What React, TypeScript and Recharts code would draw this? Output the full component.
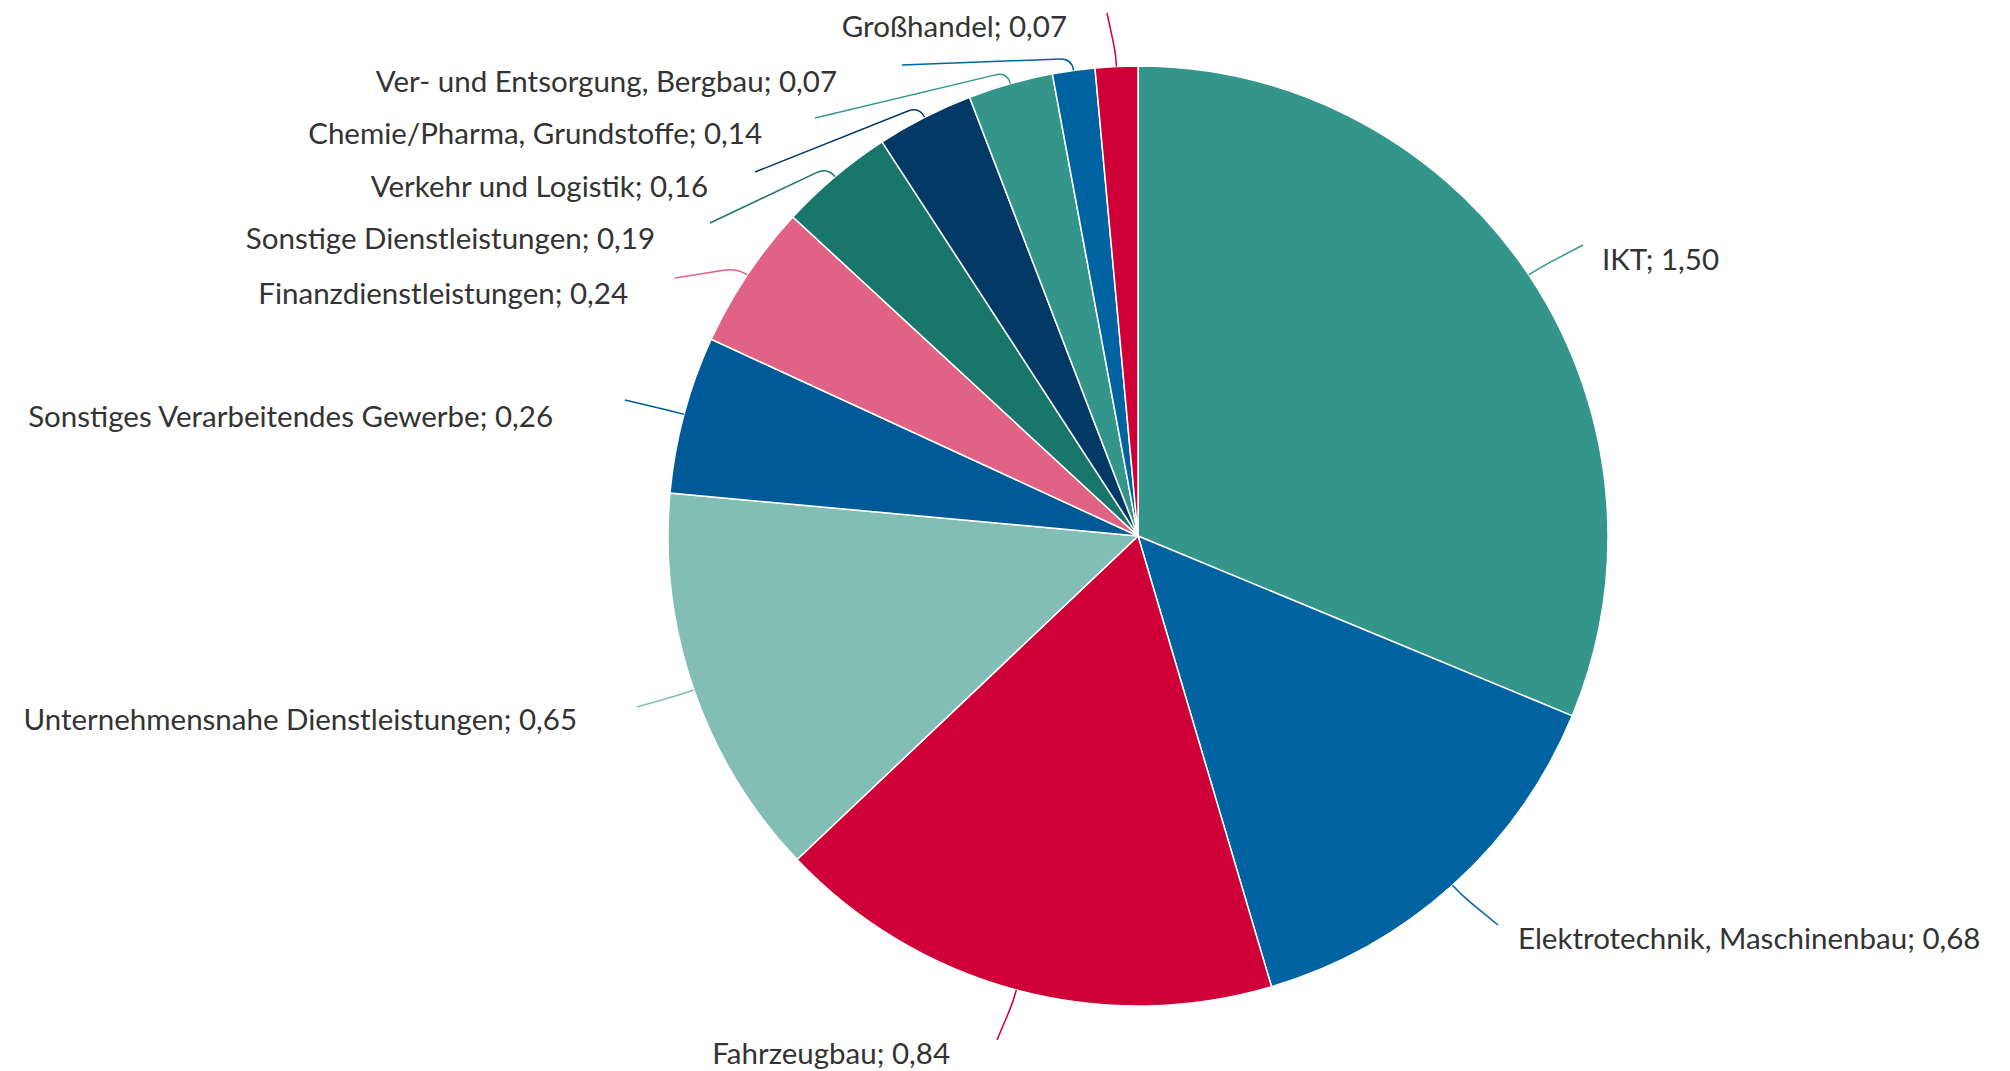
import React from 'react';
import { PieChart, Pie, Cell } from 'recharts';

const categories = [
  'IKT',
  'Elektrotechnik, Maschinenbau',
  'Fahrzeugbau',
  'Unternehmensnahe Dienstleistungen',
  'Sonstiges Verarbeitendes Gewerbe',
  'Finanzdienstleistungen',
  'Sonstige Dienstleistungen',
  'Verkehr und Logistik',
  'Chemie/Pharma, Grundstoffe',
  'Ver- und Entsorgung, Bergbau',
  'Großhandel',
];

const values = [1.5, 0.68, 0.84, 0.65, 0.26, 0.24, 0.19, 0.16, 0.14, 0.07, 0.07];

const colors = [
  '#34968A',
  '#0063A1',
  '#CF0037',
  '#82BEB6',
  '#005A97',
  '#E06386',
  '#19766A',
  '#023A65',
  '#34968A',
  '#0063A1',
  '#CF0037',
];

// label layout, relative to the pie centre
const connectorEnds = [
  [445, -291],
  [360, 389],
  [-141, 504],
  [-501, 171],
  [-513, -136],
  [-463, -258],
  [-428, -313],
  [-383, -364],
  [-323, -418],
  [-236, -471],
  [-31, -523],
];

const textAnchors = [
  [464, -278],
  [380, 401],
  [-188, 516],
  [-561, 182],
  [-585, -121],
  [-510, -244],
  [-483, -299],
  [-430, -351],
  [-376, -404],
  [-301, -456],
  [-71, -511],
];

const data = categories.map((name, i) => ({ name, value: values[i] }));

const fmt = (v: number) => v.toFixed(2).replace('.', ',');
const RAD = Math.PI / 180;

const renderLabel = (props: any) => {
  const { cx, cy, midAngle, outerRadius, index, value } = props;
  const [ex0, ey0] = connectorEnds[index];
  const [tx0, ty0] = textAnchors[index];
  const right = tx0 > 0;
  const ex = cx + ex0;
  const ey = cy + ey0;
  const cos = Math.cos(-midAngle * RAD);
  const sin = Math.sin(-midAngle * RAD);
  const ax = cx + outerRadius * cos;
  const ay = cy + outerRadius * sin;
  const bx = cx + (outerRadius + 12) * cos;
  const by = cy + (outerRadius + 12) * sin;
  const len = Math.hypot(ex - bx, ey - by) || 1;
  const k = Math.min(12, len / 2);
  const qx = bx + ((ex - bx) / len) * k;
  const qy = by + ((ey - by) / len) * k;
  return (
    <g key={`lbl-${index}`}>
      <path
        d={`M${ax},${ay} Q${bx},${by} ${qx},${qy} L${ex},${ey}`}
        stroke={colors[index]}
        strokeWidth={1.5}
        fill="none"
      />
      <text
        x={cx + tx0}
        y={cy + ty0}
        textAnchor={right ? 'start' : 'end'}
        dominantBaseline="central"
        fill="#333"
        fontSize={29.5}
        fontFamily="Lato, 'Noto Sans', sans-serif"
      >
        {`${categories[index]}; ${fmt(value)}`}
      </text>
    </g>
  );
};

export default function App() {
  return (
    <div style={{ position: 'absolute', left: 0, top: 0, width: 2010, height: 1071, background: '#fff' }}>
      <PieChart width={2010} height={1071} margin={{ top: 0, right: 0, bottom: 0, left: 0 }}>
        <Pie
          data={data}
          dataKey="value"
          nameKey="name"
          cx={1138}
          cy={536}
          outerRadius={470}
          startAngle={90}
          endAngle={-270}
          stroke="#fff"
          strokeWidth={1.5}
          label={renderLabel}
          labelLine={false}
          isAnimationActive={false}
        >
          {data.map((d, i) => (
            <Cell key={d.name} fill={colors[i]} />
          ))}
        </Pie>
      </PieChart>
    </div>
  );
}
